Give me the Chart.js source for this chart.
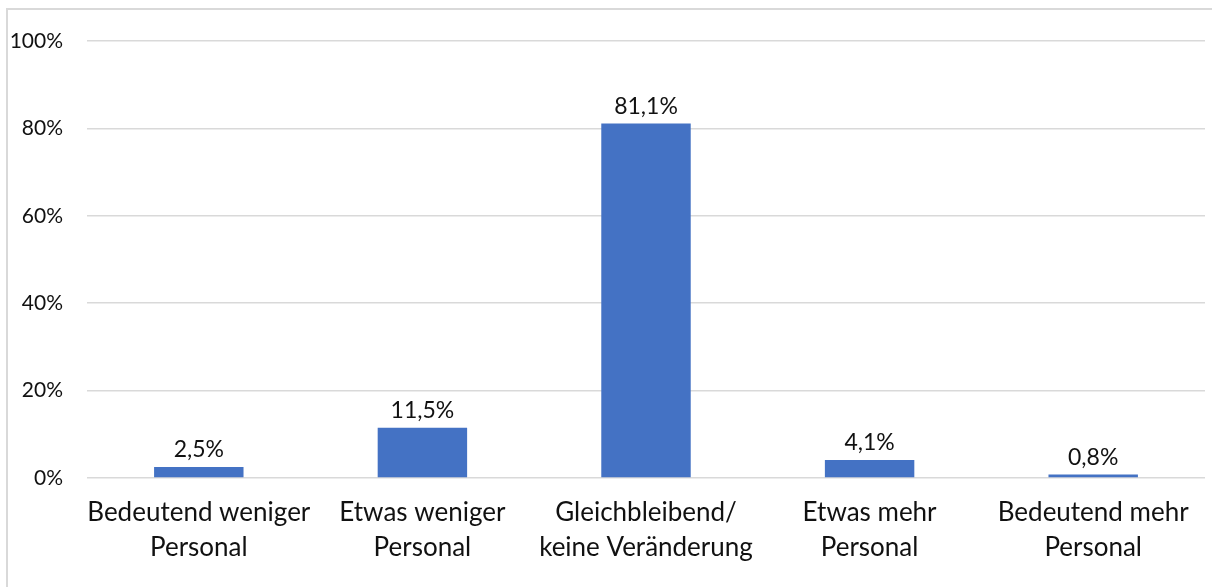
<!DOCTYPE html>
<html>
<head>
<meta charset="utf-8">
<script src="https://cdn.jsdelivr.net/npm/chart.js@4.4.1/dist/chart.umd.min.js"></script>
<style>
  html, body { margin: 0; padding: 0; background: #fff; overflow: hidden; }
  #frame {
    position: absolute; left: 6px; top: 8px;
    width: 1300px; height: 700px;
    border: 2px solid #d9d9d9;
  }
  #myChart { position: absolute; left: 0; top: 0; }
</style>
</head>
<body>
<div id="frame"></div>
<canvas id="myChart" width="1212" height="587"></canvas>
<script>
// categories (two-line labels) and share of answers in percent
const categories = [
  ['Bedeutend weniger', 'Personal'],
  ['Etwas weniger', 'Personal'],
  ['Gleichbleibend/', 'keine Veränderung'],
  ['Etwas mehr', 'Personal'],
  ['Bedeutend mehr', 'Personal']
];
const shares = [2.5, 11.5, 81.1, 4.1, 0.8];
const yTicks = [0, 20, 40, 60, 80, 100];

const FONT = 'Lato, "Open Sans", sans-serif';

// German style percent, e.g. 81,1%
function pct(v) {
  return v.toFixed(1).replace('.', ',') + '%';
}

// value labels above every bar
const valueLabels = {
  id: 'valueLabels',
  afterDatasetsDraw(chart) {
    const ctx = chart.ctx;
    const meta = chart.getDatasetMeta(0);
    ctx.save();
    ctx.font = '23px ' + FONT;
    ctx.fillStyle = '#111';
    ctx.textAlign = 'center';
    ctx.textBaseline = 'alphabetic';
    meta.data.forEach((bar, i) => {
      ctx.fillText(pct(shares[i]), bar.x, bar.y - 10);
    });
    ctx.restore();
  }
};

const ctx = document.getElementById('myChart').getContext('2d');
const personalChart = new Chart(ctx, {
  type: 'bar',
  data: {
    labels: categories,
    datasets: [{
      data: shares,
      backgroundColor: '#4472c4',
      borderWidth: 0,
      categoryPercentage: 1,
      barPercentage: 0.4
    }]
  },
  options: {
    responsive: false,
    animation: false,
    devicePixelRatio: 1,
    layout: { padding: { top: 0, right: 7, bottom: 0, left: 0 } },
    plugins: {
      legend: { display: false },
      tooltip: { enabled: false }
    },
    scales: {
      x: {
        grid: { display: false },
        border: { display: false },
        ticks: {
          color: '#111',
          font: { family: FONT, size: 26, lineHeight: 1.35 },
          padding: 9,
          maxRotation: 0,
          autoSkip: false
        },
        afterFit(scale) { scale.height = 109; }
      },
      y: {
        min: 0,
        max: 100,
        afterBuildTicks(scale) {
          scale.ticks = yTicks.map(v => ({ value: v }));
        },
        grid: { color: '#d9d9d9', lineWidth: 1.5, drawTicks: false },
        border: { display: false },
        ticks: {
          color: '#111',
          font: { family: FONT, size: 21 },
          padding: 24,
          callback: v => v + '%'
        },
        afterFit(scale) {
          scale.width = 87;
          scale.paddingTop = 41;
          scale.paddingBottom = 0;
        }
      }
    }
  },
  plugins: [valueLabels]
});
</script>
</body>
</html>
